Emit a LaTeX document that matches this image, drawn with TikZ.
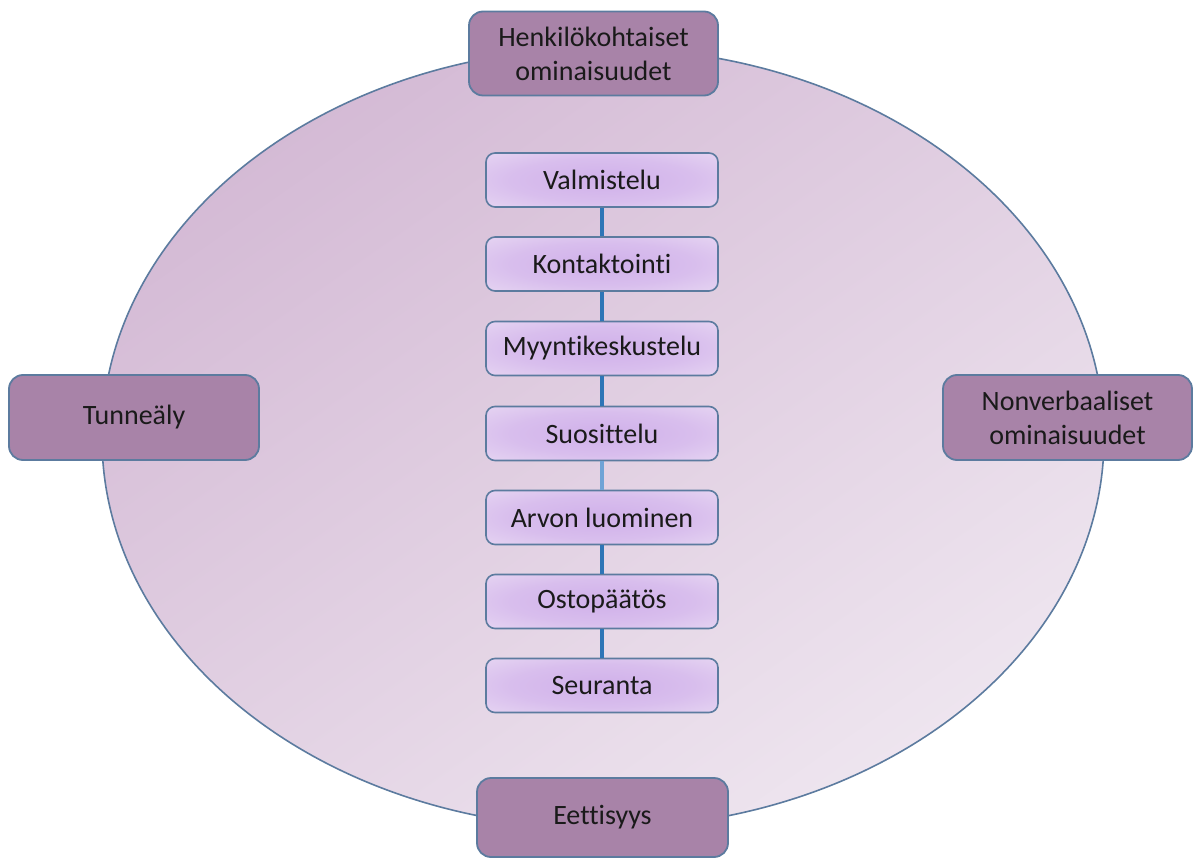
\documentclass[tikz,border=0pt]{standalone}
\usepackage{fontspec}
\setmainfont{Carlito}[Ligatures={NoCommon}]
\usetikzlibrary{shapes.geometric}
\definecolor{ovalA}{HTML}{D4BAD5}
\definecolor{ovalB}{HTML}{EEE5EF}
\definecolor{edgeblue}{HTML}{5C7B9F}
\definecolor{outerfill}{HTML}{A883A8}
\definecolor{innerC}{HTML}{D0B0EA}
\definecolor{innerO}{HTML}{F1E8F6}
\definecolor{linkblue}{HTML}{2E75B6}
\definecolor{linklight}{HTML}{6FA3D6}
\definecolor{txt}{HTML}{1A1A1A}
\pgfdeclareradialshading{stepshade}{\pgfpoint{0bp}{0bp}}{color(0bp)=(innerC); color(20bp)=(innerC!75!innerO); color(50bp)=(innerO); color(72bp)=(innerO)}
\tikzset{
  outerbox/.style={draw=edgeblue, line width=1.8pt, fill=outerfill, rounded corners=14pt,
    minimum width=249pt, minimum height=84pt, inner sep=0pt, align=center, text=txt,
    font=\fontsize{28}{34}\selectfont},
  stepbox/.style={draw=edgeblue, line width=1.6pt, shading=stepshade,
    rounded corners=9pt, minimum width=232pt, minimum height=54pt, inner sep=0pt,
    text=txt, font=\fontsize{28}{34}\selectfont},
  link/.style={draw=linkblue, line width=3.4pt},
}
\begin{document}
\begin{tikzpicture}[x=1pt,y=-1pt]
\useasboundingbox (0,0) rectangle (1198,858);
\node[ellipse, draw=edgeblue, line width=1.6pt, top color=ovalA, bottom color=ovalB, shading angle=35,
  minimum width=1002pt, minimum height=780pt, inner sep=0pt] (oval) at (603,438) {};
% outer boxes
\node[outerbox] (top) at (593.5,53.5) {Henkilökohtaiset\\ominaisuudet};
\node[outerbox, minimum width=250pt, minimum height=85pt] (left) at (134,417.5) {Tunneäly};
\node[outerbox, minimum height=85pt] (right) at (1067.5,417.5) {Nonverbaaliset\\ominaisuudet};
\node[outerbox, minimum width=251pt, minimum height=79pt] (bottom) at (602.5,817.5) {Eettisyys};
% steps
\node[stepbox] (s1) at (602,180) {Valmistelu};
\node[stepbox] (s2) at (602,264) {Kontaktointi};
\node[stepbox] (s3) at (602,348.5) {Myyntikeskustelu};
\node[stepbox] (s4) at (602,433.5) {Suosittelu};
\node[stepbox] (s5) at (602,517.5) {Arvon luominen};
\node[stepbox] (s6) at (602,601.5) {Ostopäätös};
\node[stepbox] (s7) at (602,685.5) {Seuranta};
% links
\draw[link] (s1.south) -- (s2.north);
\draw[link] (s2.south) -- (s3.north);
\draw[link] (s3.south) -- (s4.north);
\draw[link, draw=linklight] (s4.south) -- (s5.north);
\draw[link] (s5.south) -- (s6.north);
\draw[link] (s6.south) -- (s7.north);
\end{tikzpicture}
\end{document}
